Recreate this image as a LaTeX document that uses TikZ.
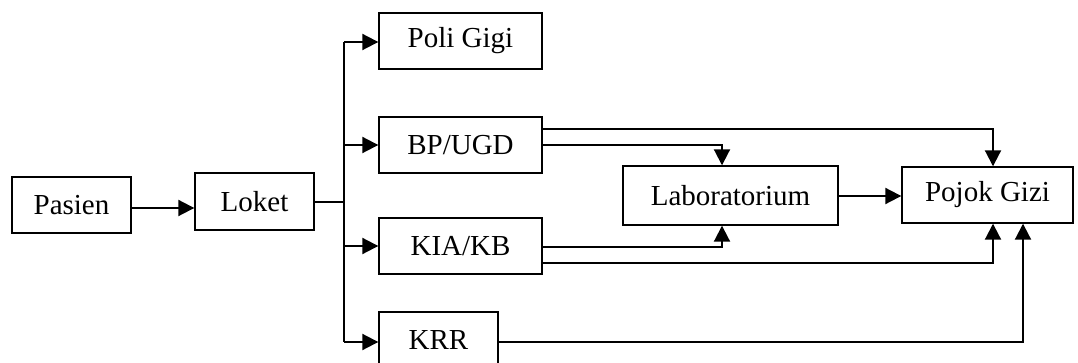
\documentclass[tikz,border=0pt]{standalone}
\usepackage{fontspec}
\setmainfont{Liberation Serif}
\usetikzlibrary{arrows.meta}
\begin{document}
\begin{tikzpicture}[x=1pt,y=-1pt,
  box/.style={draw,line width=1.4pt,inner sep=0pt,font=\fontsize{29}{32}\selectfont},
  conn/.style={line width=2pt},
  arr/.style={conn,-{Triangle[length=16pt,width=16pt]}}]
\useasboundingbox (0,0) rectangle (1078,363);
\node[box,minimum width=119pt,minimum height=56pt] (pasien) at (71.5,205) {Pasien};
\node[box,minimum width=119pt,minimum height=57pt] (loket) at (254.5,201.5) {Loket};
\node[box,minimum width=163pt,minimum height=56pt] (poli) at (460.5,41) {Poli Gigi};
\node[box,minimum width=163pt,minimum height=56pt] (bp) at (460.5,145) {BP/UGD};
\node[box,minimum width=163pt,minimum height=56pt] (kia) at (460.5,246) {KIA/KB};
\node[box,minimum width=119pt,minimum height=57pt] (krr) at (438.5,340.5) {KRR};
\node[box,minimum width=215pt,minimum height=59pt] (lab) at (730.5,195.5) {Laboratorium};
\node[box,minimum width=171pt,minimum height=56pt] (pojok) at (987.5,195) {Pojok Gizi};
\coordinate (t) at (344,202);
\coordinate (ttop) at (344,42);
\coordinate (tbot) at (344,342);
\draw[arr] ([yshift=-3pt]pasien.east) -- ([yshift=-3pt]pasien.east -| loket.west);
\draw[conn] ([yshift=-0.5pt]loket.east) -- (t);
\draw[conn] (ttop) -- (tbot);
\draw[arr] (ttop) -- (ttop -| poli.west);
\draw[arr] (t |- bp.east) -- (bp.west);
\draw[arr] (t |- kia.east) -- (kia.west);
\draw[arr] (tbot) -- (tbot -| krr.west);
\draw[arr] ([yshift=16pt]bp.east) -| ([xshift=5.5pt]pojok.north);
\draw[arr] (bp.east) -| ([xshift=-8.5pt]lab.north);
\draw[arr] ([yshift=-1pt]kia.east) -| ([xshift=-8.5pt]lab.south);
\draw[arr] ([yshift=-17pt]kia.east) -| ([xshift=5.5pt]pojok.south);
\draw[arr] ([yshift=-1.5pt]krr.east) -| ([xshift=35.5pt]pojok.south);
\draw[arr] ([yshift=-0.5pt]lab.east) -- ([yshift=-0.5pt]lab.east -| pojok.west);
\end{tikzpicture}
\end{document}
